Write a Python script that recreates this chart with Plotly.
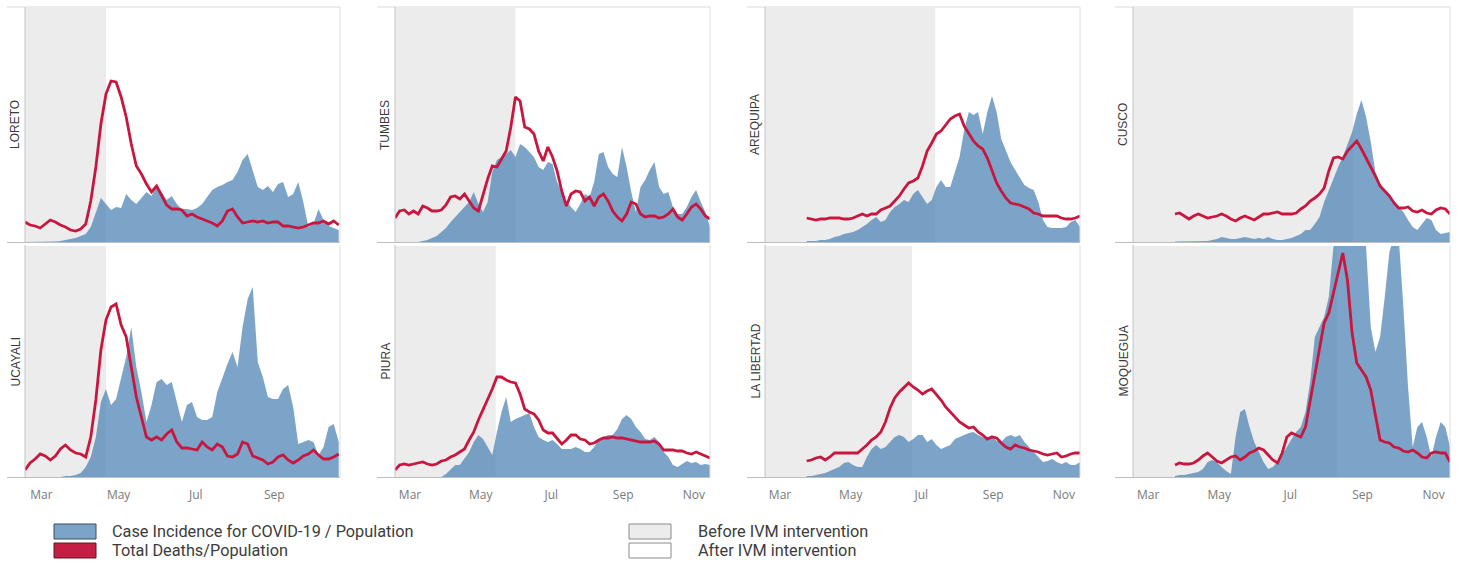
import pandas as pd
import plotly.graph_objects as go

W, H = 1461, 565

# ---------------- data ----------------
# Daily series sampled every 4 days starting 17 Feb 2020. Values are relative
# heights read from the chart (each panel has its own unlabelled scale).
START = "2020-02-17"
STEP = "4D"

loreto_cases = [0, 0, 0, 0, 0, 0, 0.5, 1, 2, 3, 4, 6, 8, 15, 30, 44, 38, 32, 35, 34,
                48, 42, 38, 44, 50, 46, 57, 50, 42, 46, 38, 33, 33, 32, 34, 38, 45, 52, 55, 57,
                60, 62, 70, 82, 88, 72, 55, 52, 56, 50, 58, 60, 45, 48, 60, 40, 15, 18, 33, 22,
                16, 14, 12]
loreto_deaths = [20, 17, 16, 14, 18, 22, 20, 17, 15, 12, 11, 13, 18, 41, 75, 118, 148, 161, 160, 145,
                 125, 98, 76, 68, 58, 50, 56, 46, 37, 33, 33, 32, 26, 28, 25, 23, 21, 19, 16, 21,
                 31, 33, 25, 19, 20, 21, 20, 21, 19, 20, 20, 16, 16, 15, 14, 15, 17, 19, 19, 21,
                 18, 21, 17]

ucayali_cases = [0, 0, 0, 0, 0, 0, 0, 0, 1, 1, 2, 4, 10, 20, 40, 75, 88, 72, 78, 98,
                 120, 150, 110, 85, 55, 72, 95, 98, 92, 95, 75, 55, 72, 75, 60, 57, 57, 60, 85, 100,
                 113, 125, 110, 150, 178, 190, 115, 100, 80, 78, 78, 88, 92, 70, 33, 35, 37, 35, 22, 30,
                 50, 53, 35]
ucayali_deaths = [7, 14, 18, 23, 21, 17, 21, 28, 32, 27, 24, 23, 20, 40, 77, 127, 157, 170, 173, 152,
                  140, 110, 80, 60, 40, 37, 40, 37, 43, 47, 35, 29, 29, 28, 27, 35, 30, 27, 33, 30,
                  21, 20, 23, 35, 33, 21, 19, 17, 13, 15, 20, 22, 17, 14, 17, 21, 23, 27, 22, 18,
                  18, 20, 23]

tumbes_cases = [0, 0, 0, 0, 0, 0, 1, 2, 4, 6, 10, 14, 20, 25, 30, 35, 40, 50, 38, 30,
                40, 70, 82, 85, 88, 92, 85, 98, 95, 90, 85, 75, 72, 80, 78, 60, 50, 40, 35, 30,
                38, 48, 45, 60, 88, 90, 75, 68, 65, 95, 75, 50, 30, 55, 62, 72, 80, 55, 48, 50,
                35, 28, 28, 35, 45, 52, 40, 30, 15]
tumbes_deaths = [24, 31, 32, 28, 31, 28, 36, 34, 31, 31, 32, 37, 45, 46, 43, 48, 41, 34, 31, 48,
                 63, 76, 75, 83, 91, 115, 145, 141, 115, 113, 108, 91, 81, 95, 85, 71, 51, 36, 48, 51,
                 50, 41, 45, 36, 45, 48, 41, 31, 25, 21, 28, 40, 38, 28, 25, 26, 26, 24, 25, 28,
                 33, 25, 22, 28, 35, 38, 33, 26, 23]

piura_cases = [0, 0, 0, 0, 0, 0, 0, 0, 0, 0, 0, 3, 8, 12, 12, 18, 25, 35, 42, 38,
               30, 22, 45, 65, 80, 55, 58, 60, 62, 64, 50, 40, 37, 35, 37, 33, 28, 28, 28, 30,
               28, 25, 25, 30, 38, 40, 42, 42, 48, 58, 62, 58, 50, 45, 38, 37, 40, 35, 25, 20,
               12, 10, 13, 16, 14, 15, 12, 13, 12]
piura_deaths = [7, 12, 13, 12, 13, 14, 15, 13, 12, 13, 16, 17, 20, 22, 25, 28, 37, 45, 57, 67,
                77, 88, 100, 100, 97, 95, 94, 83, 68, 65, 63, 57, 47, 44, 44, 38, 33, 37, 42, 42,
                38, 37, 33, 34, 37, 39, 39, 40, 39, 39, 38, 37, 36, 35, 35, 35, 36, 33, 27, 27,
                27, 26, 26, 24, 23, 25, 23, 21, 19]

arequipa_cases = [None, None, None, None, None, None, None, None, None, 1, 1, 1, 2, 2, 3, 5, 6, 8, 9, 10,
                  12, 15, 18, 22, 25, 20, 22, 30, 35, 38, 42, 40, 48, 52, 45, 38, 42, 55, 62, 55,
                  55, 70, 85, 112, 130, 127, 130, 108, 130, 146, 130, 103, 92, 80, 72, 64, 57, 54, 52, 40,
                  22, 15, 14, 14, 14, 15, 20, 22, 15]
arequipa_deaths = [None, None, None, None, None, None, None, None, None, 24, 23, 22, 23, 23, 24, 24, 24, 23, 23, 24,
                   26, 28, 26, 28, 28, 32, 34, 36, 41, 46, 53, 59, 61, 64, 76, 91, 99, 108, 111, 117,
                   123, 126, 128, 116, 108, 101, 96, 93, 84, 71, 59, 51, 44, 39, 38, 37, 35, 33, 29, 28,
                   26, 26, 26, 26, 24, 23, 23, 24, 26]

la_libertad_cases = [None, None, None, None, None, None, None, None, None, 1, 1, 2, 3, 4, 6, 8, 10, 14, 15, 12,
                     10, 10, 20, 28, 32, 28, 30, 35, 40, 42, 40, 35, 38, 42, 42, 35, 38, 32, 28, 30,
                     32, 38, 40, 42, 44, 45, 42, 40, 38, 42, 36, 35, 40, 42, 40, 42, 35, 30, 25, 20,
                     15, 16, 18, 15, 13, 15, 12, 12, 15]
la_libertad_deaths = [None, None, None, None, None, None, None, None, None, 16, 17, 19, 20, 17, 20, 24, 24, 24, 24, 24,
                      24, 28, 32, 37, 40, 45, 55, 69, 79, 85, 90, 94, 90, 87, 83, 86, 88, 83, 77, 70,
                      65, 60, 55, 52, 49, 50, 45, 42, 38, 40, 39, 34, 30, 28, 32, 30, 29, 27, 26, 25,
                      23, 22, 23, 24, 20, 21, 23, 24, 24]

cusco_cases = [None, None, None, None, None, None, None, None, None, 0.5, 0.5, 0.5, 1, 1, 1, 1, 1, 2, 3, 5,
               4, 3, 3, 4, 5, 4, 3, 4, 3, 5, 3, 2, 2, 3, 4, 6, 8, 12, 12, 18,
               25, 40, 52, 62, 75, 85, 98, 110, 128, 142, 125, 100, 70, 58, 52, 48, 40, 35, 30, 22,
               15, 12, 18, 24, 22, 12, 8, 9, 10]
cusco_deaths = [None, None, None, None, None, None, None, None, None, 28, 29, 26, 23, 26, 28, 26, 24, 25, 26, 28,
                26, 23, 21, 24, 26, 24, 22, 25, 28, 28, 29, 30, 28, 28, 28, 29, 33, 36, 41, 44,
                48, 54, 71, 84, 85, 83, 91, 96, 101, 93, 84, 76, 66, 56, 51, 46, 39, 34, 34, 35,
                31, 30, 32, 29, 28, 32, 34, 33, 28]

moquegua_cases = [None, None, None, None, None, None, None, None, None, 1, 2, 2, 3, 4, 5, 8, 15, 17, 15, 10,
                  6, 3, 40, 65, 68, 50, 35, 25, 15, 8, 10, 15, 22, 30, 38, 45, 50, 65, 95, 140,
                  150, 160, 180, 230, 240, 240, 240, 240, 240, 240, 230, 150, 125, 140, 180, 225, 240, 240, 170, 90,
                  30, 50, 55, 40, 20, 40, 55, 50, 30]
moquegua_deaths = [None, None, None, None, None, None, None, None, None, 12, 14, 13, 13, 14, 17, 21, 24, 20, 16, 14,
                   17, 20, 21, 17, 20, 24, 26, 29, 27, 22, 17, 14, 24, 40, 44, 42, 40, 50, 77, 104,
                   130, 154, 164, 184, 204, 224, 197, 144, 114, 107, 100, 87, 60, 37, 35, 34, 30, 29, 26, 25,
                   27, 24, 20, 19, 24, 25, 24, 24, 15]

regions = ["LORETO", "TUMBES", "AREQUIPA", "CUSCO", "UCAYALI", "PIURA", "LA LIBERTAD", "MOQUEGUA"]
ivm_dates = ["2020-04-21", "2020-05-31", "2020-07-13", "2020-08-24",
             "2020-04-21", "2020-05-14", "2020-06-23", "2020-08-10"]
range_ends = ["2020-10-23", "2020-11-15", "2020-11-15", "2020-11-15"]
month_ticks = ["2020-03-01", "2020-05-01", "2020-07-01", "2020-09-01", "2020-11-01"]
month_labels = ["Mar", "May", "Jul", "Sep", "Nov"]
legend_series = ["Case Incidence for COVID-19 / Population", "Total Deaths/Population"]
legend_periods = ["Before IVM intervention", "After IVM intervention"]

cases_list = [loreto_cases, tumbes_cases, arequipa_cases, cusco_cases,
              ucayali_cases, piura_cases, la_libertad_cases, moquegua_cases]
deaths_list = [loreto_deaths, tumbes_deaths, arequipa_deaths, cusco_deaths,
               ucayali_deaths, piura_deaths, la_libertad_deaths, moquegua_deaths]

# ---------------- style ----------------
BLUE_FILL = "rgba(78,132,182,0.74)"
RED = "#C8163F"
GRAY_BAND = "#ececec"
TICK_FONT = dict(family="Open Sans, Roboto, sans-serif", size=12, color="#7a7a7a")
LABEL_FONT = dict(family="Liberation Sans, Arial, sans-serif", size=12, color="#3a3a3a")
LEGEND_FONT = dict(family="Roboto, sans-serif", size=16.3, color="#3c3c3c")

cols_px = [(25, 340), (395, 710), (765, 1080), (1133, 1450)]
rows_px = [(8, 242), (246, 477)]


def px(x):
    return x / W


def py(y):
    return 1 - y / H


fig = go.Figure()
layout = {}
shapes = []
annotations = []

for i, name in enumerate(regions):
    r, c = divmod(i, 4)
    n = i + 1
    xa = "x" if n == 1 else f"x{n}"
    ya = "y" if n == 1 else f"y{n}"
    x0, x1 = cols_px[c]
    y0, y1 = rows_px[r]
    height = y1 - y0

    cases = cases_list[i]
    deaths = deaths_list[i]
    dc = pd.date_range(START, periods=len(cases), freq=STEP)
    dd = pd.date_range(START, periods=len(deaths), freq=STEP)

    fig.add_trace(go.Scatter(
        x=dc, y=cases, xaxis=xa, yaxis=ya, mode="lines",
        line=dict(width=0, color=BLUE_FILL), fill="tozeroy", fillcolor=BLUE_FILL,
        hoverinfo="skip", showlegend=False))
    fig.add_trace(go.Scatter(
        x=dd, y=deaths, xaxis=xa, yaxis=ya, mode="lines",
        line=dict(width=2.8, color=RED), hoverinfo="skip", showlegend=False))

    layout["xaxis" + ("" if n == 1 else str(n))] = dict(
        domain=[px(x0), px(x1)], anchor=ya, type="date",
        range=[START, range_ends[c]], showgrid=False, zeroline=False, showline=False,
        tickmode="array", tickvals=month_ticks, ticktext=month_labels,
        showticklabels=(r == 1), ticks="outside" if r == 1 else "",
        ticklen=7, tickcolor="rgba(0,0,0,0)", tickfont=TICK_FONT, fixedrange=True)
    layout["yaxis" + ("" if n == 1 else str(n))] = dict(
        domain=[py(y1), py(y0)], anchor=xa, range=[0, height],
        visible=False, fixedrange=True)

    # before-intervention band
    shapes.append(dict(type="rect", xref=xa, yref=f"{ya} domain",
                       x0=START, x1=ivm_dates[i], y0=0, y1=1,
                       fillcolor=GRAY_BAND, line=dict(width=0), layer="below"))
    # frame lines
    if r == 0:
        shapes.append(dict(type="line", xref="paper", yref="paper",
                           x0=px(x0 - 18), x1=px(x1), y0=py(y0 - 1), y1=py(y0 - 1),
                           line=dict(color="#dadada", width=1)))
    shapes.append(dict(type="line", xref="paper", yref="paper",
                       x0=px(x0), x1=px(x0), y0=py(y0 - 1), y1=py(y1),
                       line=dict(color="#c4c4c4", width=1)))
    shapes.append(dict(type="line", xref="paper", yref="paper",
                       x0=px(x1), x1=px(x1), y0=py(y0 - 1), y1=py(y1),
                       line=dict(color="#dedede", width=1)))
    shapes.append(dict(type="line", xref="paper", yref="paper",
                       x0=px(x0 - 18), x1=px(x1), y0=py(y1 + 0.5), y1=py(y1 + 0.5),
                       line=dict(color="#bdbdbd", width=1)))

    annotations.append(dict(text=name, xref="paper", yref="paper",
                            x=px(x0 - 10), y=py((y0 + y1) / 2), textangle=-90,
                            xanchor="center", yanchor="middle", showarrow=False,
                            font=LABEL_FONT))

# ---------------- legend ----------------
legend_boxes = [
    (54, 524, "#7ba5c8", "#3f4d5a", legend_series[0], 110),
    (54, 543, "#c41e45", "#5a1a28", legend_series[1], 110),
    (629, 524, "#ececec", "#8a8a8a", legend_periods[0], 696),
    (629, 543, "#ffffff", "#8a8a8a", legend_periods[1], 696),
]
for bx, by, fill, edge, label, tx in legend_boxes:
    shapes.append(dict(type="rect", xref="paper", yref="paper",
                       x0=px(bx), x1=px(bx + 42), y0=py(by + 15), y1=py(by),
                       fillcolor=fill, line=dict(color=edge, width=1)))
    annotations.append(dict(text=label, xref="paper", yref="paper",
                            x=px(tx), y=py(by + 7.5), xanchor="left", yanchor="middle",
                            showarrow=False, font=LEGEND_FONT))

fig.update_layout(
    width=W, height=H, margin=dict(l=0, r=0, t=0, b=0),
    paper_bgcolor="white", plot_bgcolor="white",
    shapes=shapes, annotations=annotations, showlegend=False,
    **layout)

fig.write_html("out.html", config={"displayModeBar": False},
               post_script="document.body.style.margin='0px';")
